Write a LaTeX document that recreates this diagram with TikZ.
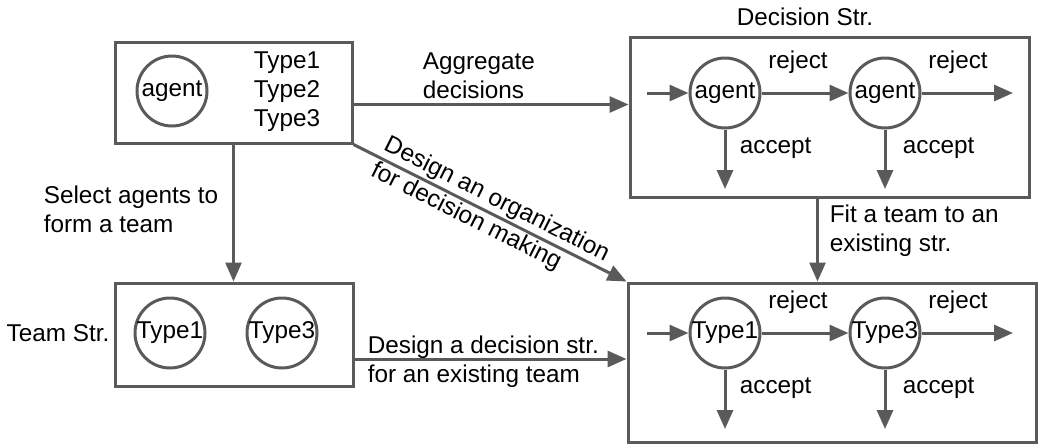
\documentclass[tikz,border=0pt]{standalone}
\usepackage{fontspec}
\setmainfont{Liberation Sans}
\usetikzlibrary{arrows.meta}
\definecolor{edgegray}{HTML}{5A5A5A}

\begin{document}
\begin{tikzpicture}[x=1pt, y=-1pt, >={Triangle[length=19pt,width=16pt]}, line width=3pt,
  every node/.style={font=\fontsize{24.3}{29}\selectfont, text=black},
  box/.style={draw=edgegray, inner sep=0pt},
  agentnode/.style={draw=edgegray, circle, minimum size=70pt, inner sep=0pt},
  flow/.style={->, draw=edgegray}]
\useasboundingbox (0,0) rectangle (1038,445);

% the four boxes
\node[box, minimum width=237pt, minimum height=101pt] (src) at (233.5,92.5) {};
\node[box, minimum width=399pt, minimum height=160pt] (dec) at (829.5,117) {};
\node[box, minimum width=238pt, minimum height=103pt] (team) at (234,334.5) {};
\node[box, minimum width=408pt, minimum height=159pt] (bot) at (832,362.5) {};

% pool of agents
\node[agentnode] (pool) at (172,91) {agent};
\node[align=center] (types) at (287,92) {Type1\\Type2\\Type3};

% team
\node[agentnode] (t1) at (170,333) {Type1};
\node[agentnode] (t3) at (282,333) {Type3};
\node (teamlbl) at (58,333) {Team Str.};
\node (declbl) at (805,17) {Decision Str.};

% the two chains of decisions
\foreach \row/\y/\first/\second in {d/93/agent/agent, b/333/Type1/Type3} {
  \node[agentnode] (\row1) at (725,\y) {\first};
  \node[agentnode] (\row2) at (885,\y) {\second};
  \coordinate (\row-in) at (647,\y);
  \coordinate (\row-out) at (1013,\y);
  \coordinate (\row-acc1) at (725,\y+96);
  \coordinate (\row-acc2) at (885,\y+96);
  \draw[flow] (\row-in) -- (\row1);
  \draw[flow] (\row1) -- (\row2);
  \draw[flow] (\row2) -- (\row-out);
  \draw[flow] (\row1) -- (\row-acc1);
  \draw[flow] (\row2) -- (\row-acc2);
  \node (\row-rej1) at (798,\y-31) {reject};
  \node (\row-rej2) at (958,\y-31) {reject};
  \node[anchor=west] (\row-ok1) at (735,\y+55) {accept};
  \node[anchor=west] (\row-ok2) at (898,\y+55) {accept};
}

% links between the boxes
\draw[flow] ([yshift=-12pt]src.east) -- ([yshift=-12pt]src.east -| dec.west);
\node[align=left, anchor=west] (agglbl) at (418,76) {Aggregate\\decisions};
\draw[flow] (src.south) -- (src.south |- team.north);
\node[align=left, anchor=west] (sellbl) at (39,209) {Select agents to\\form a team};
\draw[flow] (src.south east) -- node[sloped, align=left] (orglbl) {Design an organization\\for decision making} (bot.north west);
\draw[flow] ([xshift=-12pt]dec.south) -- ([xshift=-12pt]dec.south |- bot.north);
\node[align=left, anchor=west] (fitlbl) at (825,231) {Fit a team to an\\existing str.};
\draw[flow] ([yshift=-24.5pt]team.east) -- ([yshift=-24.5pt]team.east -| bot.west);
\node[align=left, anchor=west] (dslbl) at (363,362) {Design a decision str.\\for an existing team};
\end{tikzpicture}
\end{document}
